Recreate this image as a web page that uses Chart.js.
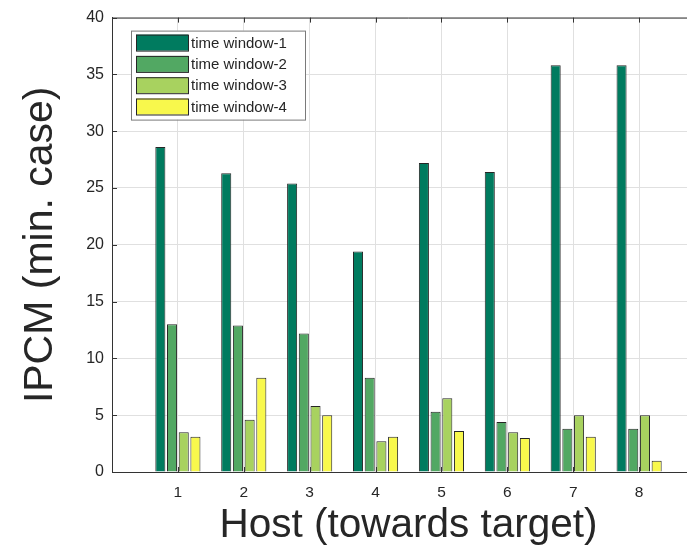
<!DOCTYPE html>
<html>
<head>
<meta charset="utf-8">
<script src="https://cdn.jsdelivr.net/npm/chart.js@4.4.0/dist/chart.umd.min.js"></script>
<style>
  html, body { margin: 0; padding: 0; background: #fff; overflow: hidden; }
  #wrap { width: 720px; height: 550px; }
</style>
</head>
<body>
<div id="wrap"><canvas id="c" width="720" height="550"></canvas></div>
<script>
// Host indices along the x axis
const hosts = [1, 2, 3, 4, 5, 6, 7, 8];
// Series names
const seriesNames = ['time window-1', 'time window-2', 'time window-3', 'time window-4'];
// IPCM (minimum case) per host for each time window
const window1 = [28.6, 26.3, 25.4, 19.4, 27.2, 26.4, 35.8, 35.8];
const window2 = [13.0, 12.9, 12.2, 8.3, 5.3, 4.4, 3.8, 3.8];
const window3 = [3.5, 4.6, 5.8, 2.7, 6.5, 3.5, 5.0, 5.0];
const window4 = [3.1, 8.3, 5.0, 3.1, 3.6, 3.0, 3.1, 1.0];
// Y tick values
const yTicks = [0, 5, 10, 15, 20, 25, 30, 35, 40];

const seriesValues = [window1, window2, window3, window4];
const fills = ['#007b5f', '#52a863', '#a8d25f', '#f8f84c'];
const FONT = '"Liberation Sans", Arial, Helvetica, sans-serif';
const TEXT = '#262626';

// Boxed legend in the upper-left of the plot, plus inward tick marks and top frame line
const framePlugin = {
  id: 'frame',
  afterDraw(chart) {
    const { ctx, chartArea: a, scales } = chart;
    ctx.save();
    // top frame line
    ctx.strokeStyle = '#333';
    ctx.lineWidth = 1;
    ctx.beginPath();
    ctx.moveTo(a.left, a.top + 0.5);
    ctx.lineTo(a.right, a.top + 0.5);
    ctx.stroke();
    // inward tick marks
    ctx.beginPath();
    hosts.forEach(h => {
      const x = Math.round(scales.x.getPixelForValue(h)) + 0.5;
      ctx.moveTo(x, a.bottom); ctx.lineTo(x, a.bottom - 5);
      ctx.moveTo(x, a.top); ctx.lineTo(x, a.top + 5);
    });
    yTicks.forEach(v => {
      const y = Math.round(scales.y.getPixelForValue(v)) + 0.5;
      ctx.moveTo(a.left, y); ctx.lineTo(a.left + 5, y);
    });
    ctx.stroke();

    // legend
    const lx = a.left + 19, ly = a.top + 13, lw = 174, lh = 89;
    ctx.fillStyle = '#fff';
    ctx.fillRect(lx, ly, lw, lh);
    ctx.strokeStyle = '#7a7a7a';
    ctx.strokeRect(lx + 0.5, ly + 0.5, lw, lh);
    ctx.font = '15px ' + FONT;
    ctx.textBaseline = 'middle';
    ctx.textAlign = 'left';
    chart.data.datasets.forEach((ds, i) => {
      const cy = ly + 12 + i * 21.3;
      ctx.fillStyle = ds.backgroundColor;
      ctx.fillRect(lx + 5, cy - 8, 52, 16);
      ctx.strokeStyle = '#262626';
      ctx.strokeRect(lx + 5.5, cy - 7.5, 52, 16);
      ctx.fillStyle = TEXT;
      ctx.fillText(ds.label, lx + 60, cy + 1);
    });
    ctx.restore();
  }
};

const datasets = seriesNames.map((name, i) => ({
  label: name,
  data: hosts.map((h, j) => ({ x: h, y: seriesValues[i][j] })),
  backgroundColor: fills[i],
  borderColor: '#262626',
  borderWidth: 1,
  borderSkipped: 'bottom',
  categoryPercentage: 0.71,
  barPercentage: 0.86
}));

new Chart(document.getElementById('c'), {
  type: 'bar',
  data: { datasets },
  plugins: [framePlugin],
  options: {
    responsive: false,
    animation: false,
    layout: { padding: { left: 0, top: 13, right: 15, bottom: 0 } },
    plugins: { legend: { display: false }, tooltip: { enabled: false } },
    scales: {
      x: {
        type: 'linear',
        min: 0,
        max: 9,
        offset: false,
        afterBuildTicks: s => { s.ticks = hosts.map(v => ({ value: v })); },
        afterFit: s => { s.height = 78; },
        ticks: { font: { size: 15.5, family: FONT }, color: TEXT, padding: 11, maxRotation: 0,
                 callback: v => String(v) },
        grid: { color: '#e0e0e0', drawTicks: false, offset: false },
        border: { color: '#333', width: 1 },
        title: { display: true, text: 'Host (towards target)', color: TEXT,
                 font: { size: 40.5, family: FONT }, padding: { top: 0, bottom: 0 } }
      },
      y: {
        min: 0,
        max: 40,
        afterBuildTicks: s => { s.ticks = yTicks.map(v => ({ value: v })); },
        afterFit: s => { s.width = 112; },
        ticks: { font: { size: 16, family: FONT }, color: TEXT, padding: 8 },
        grid: { color: '#e0e0e0', drawTicks: false },
        border: { color: '#333', width: 1 },
        title: { display: true, text: 'IPCM (min. case)', color: TEXT,
                 font: { size: 41, family: FONT }, padding: { top: 16, bottom: 0 } }
      }
    }
  }
});
</script>
</body>
</html>
